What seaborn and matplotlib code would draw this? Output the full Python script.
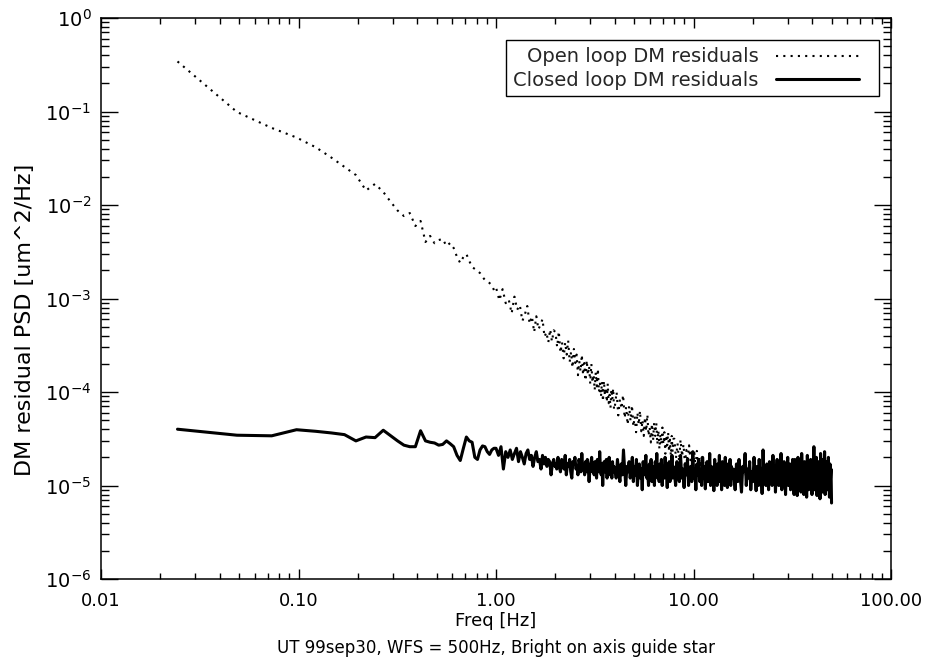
import matplotlib
matplotlib.use("Agg")
import numpy as np
import pandas as pd
import seaborn as sns
import matplotlib.pyplot as plt
from matplotlib.patches import Rectangle
from matplotlib.ticker import FixedLocator, FixedFormatter, LogLocator, NullFormatter

# ---------------- data ----------------
# lowest FFT bins (Hz)
bins_low = [0.0244, 0.0488, 0.0732, 0.0977, 0.1221, 0.1465, 0.1709, 0.1953, 0.2197, 0.2441,
            0.2686, 0.2930, 0.3174, 0.3418, 0.3662, 0.3906, 0.4150, 0.4395, 0.4639, 0.4883,
            0.5127, 0.5371, 0.5615, 0.5859, 0.6104, 0.6348, 0.6592, 0.6836, 0.7080, 0.7324,
            0.7568, 0.7813, 0.8057, 0.8301, 0.8545, 0.8789, 0.9033, 0.9277, 0.9521, 0.9766]

# open loop PSD [um^2/Hz] at the lowest bins
ol_low = [0.343, 0.0988, 0.0667, 0.0527, 0.0415, 0.0322, 0.0255, 0.0209, 0.0143, 0.0168,
          0.0138, 0.0108, 0.00873, 0.00762, 0.0082, 0.00596, 0.00675, 0.00402, 0.00467, 0.0039,
          4.22e-3, 4.33e-3, 3.64e-3, 3.92e-3, 3.47e-3, 2.78e-3, 2.40e-3, 2.78e-3, 2.99e-3, 2.52e-3,
          2.17e-3, 2.07e-3, 1.97e-3, 1.87e-3, 1.70e-3, 1.58e-3, 1.54e-3, 1.46e-3, 1.39e-3, 1.23e-3]

# open loop above 1 Hz: frequency [Hz] and log10(PSD)
ol_freq_hi = [1.00, 1.04, 1.08, 1.12, 1.16, 1.20, 1.24, 1.28, 1.32, 1.36, 1.40, 1.44, 1.48,
              1.52, 1.56, 1.60, 1.64, 1.68, 1.72, 1.76, 1.80, 1.84, 1.88, 1.92, 1.96,
              2.00, 2.04, 2.08, 2.12, 2.16, 2.20, 2.24, 2.28, 2.32, 2.36, 2.40, 2.44, 2.48, 2.52,
              2.56, 2.60, 2.64, 2.68, 2.72, 2.76, 2.80, 2.84, 2.88, 2.92, 2.96, 3.00, 3.04, 3.08,
              3.12, 3.16, 3.20, 3.24, 3.28, 3.32, 3.36, 3.40, 3.44, 3.48, 3.52, 3.56, 3.60, 3.64,
              3.68, 3.72, 3.76, 3.80, 3.84, 3.88, 3.92, 3.96,
              4.00, 4.08, 4.16, 4.24, 4.32, 4.40, 4.48, 4.56, 4.64, 4.72, 4.80, 4.88, 4.96, 5.04,
              5.12, 5.20, 5.28, 5.36, 5.44, 5.52, 5.60, 5.68, 5.76, 5.84, 5.92, 6.00, 6.08, 6.16,
              6.24, 6.32, 6.40, 6.48, 6.56, 6.64, 6.72, 6.80, 6.88, 6.96, 7.04, 7.12, 7.20, 7.28,
              7.36, 7.44, 7.52, 7.60, 7.68, 7.76, 7.84, 7.92,
              8.00, 8.15, 8.30, 8.45, 8.60, 8.75, 8.90, 9.05, 9.20, 9.35, 9.50, 9.65, 9.80, 9.95,
              10.10, 10.25, 10.40, 10.55, 10.70, 10.85, 11.00,
              12.0, 13.5, 15.0, 17.0, 19.0, 21.5, 24.0, 27.0, 30.0, 34.0, 38.0, 43.0, 50.0]
ol_log_hi = [-2.88, -3.02, -2.90, -3.05, -3.01, -3.16, -2.98, -3.12, -3.07, -3.24, -3.17, -3.08,
             -3.27, -3.19, -3.36, -3.19, -3.33, -3.28, -3.22, -3.41, -3.36, -3.47, -3.33, -3.46,
             -3.34,
             -3.36, -3.52, -3.35, -3.58, -3.47, -3.64, -3.47, -3.60, -3.45, -3.68, -3.57, -3.74,
             -3.54, -3.69, -3.60, -3.82, -3.67, -3.78, -3.60, -3.82, -3.69, -3.88, -3.66, -3.82,
             -3.72, -3.91, -3.70, -3.90, -3.81, -3.98, -3.79, -3.94, -3.75, -4.00, -3.91, -4.05,
             -3.89, -4.10, -3.88, -4.04, -3.95, -4.11, -3.91, -4.12, -4.03, -4.17, -3.97, -4.08,
             -3.96, -4.19,
             -4.15, -4.00, -4.25, -4.08, -4.18, -4.03, -4.28, -4.16, -4.35, -4.15, -4.31, -4.14,
             -4.37, -4.26, -4.43, -4.22, -4.35, -4.20, -4.42, -4.30, -4.47, -4.27, -4.42, -4.24,
             -4.47, -4.38, -4.54, -4.34, -4.52, -4.33, -4.47, -4.33, -4.56, -4.41, -4.61, -4.45,
             -4.56, -4.38, -4.56, -4.43, -4.66, -4.46, -4.57, -4.43, -4.64, -4.51, -4.68, -4.47,
             -4.64, -4.50,
             -4.50, -4.71, -4.55, -4.74, -4.51, -4.69, -4.56, -4.77, -4.62, -4.75, -4.57, -4.73,
             -4.62, -4.81, -4.65, -4.80, -4.63, -4.83, -4.70, -4.81, -4.70,
             -4.80, -4.95, -4.82, -4.97, -4.85, -5.00, -4.86, -5.02, -4.88, -5.03, -4.87, -5.05,
             -4.92]

# closed loop PSD, in units of 1e-5 um^2/Hz
cl_low = [4.0, 3.45, 3.4, 3.95, 3.8, 3.65, 3.5, 3.0, 3.3, 3.25,
          3.9, 3.4, 3.0, 2.7, 2.6, 2.6, 3.85, 3.0, 2.9, 2.85,
          2.7, 2.75, 3.0, 2.8, 2.6, 2.1, 1.85, 2.5, 3.3, 3.0,
          2.9, 2.0, 1.9, 2.4, 2.65, 2.6, 2.3, 2.15, 2.4, 2.5]
cl_freq_hi = [
    1.00, 1.03, 1.06, 1.09, 1.12, 1.15, 1.18, 1.21, 1.24, 1.27, 1.30, 1.33, 1.36, 1.39,
    1.42, 1.45, 1.48, 1.51, 1.54, 1.57, 1.60, 1.63, 1.66, 1.69, 1.72, 1.75, 1.78, 1.81,
    1.84, 1.87, 1.90, 1.93, 1.96, 1.99,
    2.00, 2.03, 2.06, 2.09, 2.12, 2.15, 2.18, 2.21, 2.24, 2.27, 2.30, 2.33, 2.36, 2.39,
    2.42, 2.45, 2.48, 2.51, 2.54, 2.57, 2.60, 2.63, 2.66, 2.69, 2.72, 2.75, 2.78, 2.81,
    2.84, 2.87, 2.90, 2.93, 2.96, 2.99, 3.02, 3.05, 3.08, 3.11, 3.14, 3.17, 3.20, 3.23,
    3.26, 3.29, 3.32, 3.35, 3.38, 3.41, 3.44, 3.47, 3.50, 3.53, 3.56, 3.59, 3.62, 3.65,
    3.68, 3.71, 3.74, 3.77, 3.80, 3.83, 3.86, 3.89, 3.92, 3.95, 3.98,
    4.00, 4.06, 4.12, 4.18, 4.24, 4.30, 4.36, 4.42, 4.48, 4.54, 4.60, 4.66, 4.72, 4.78,
    4.84, 4.90, 4.96, 5.02, 5.08, 5.14, 5.20, 5.26, 5.32, 5.38, 5.44, 5.50, 5.56, 5.62,
    5.68, 5.74, 5.80, 5.86, 5.92, 5.98, 6.04, 6.10, 6.16, 6.22, 6.28, 6.34, 6.40, 6.46,
    6.52, 6.58, 6.64, 6.70, 6.76, 6.82, 6.88, 6.94, 7.00, 7.06, 7.12, 7.18, 7.24, 7.30,
    7.36, 7.42, 7.48, 7.54, 7.60, 7.66, 7.72, 7.78, 7.84, 7.90, 7.96,
    8.00, 8.12, 8.24, 8.36, 8.48, 8.60, 8.72, 8.84, 8.96, 9.08, 9.20, 9.32, 9.44, 9.56,
    9.68, 9.80, 9.92, 10.04, 10.16, 10.28, 10.40, 10.52, 10.64, 10.76, 10.88, 11.00, 11.12,
    11.24, 11.36, 11.48, 11.60, 11.72, 11.84, 11.96, 12.08, 12.20, 12.32, 12.44, 12.56,
    12.68, 12.80, 12.92, 13.04, 13.16, 13.28, 13.40, 13.52, 13.64, 13.76, 13.88, 14.00,
    14.12, 14.24, 14.36, 14.48, 14.60, 14.72, 14.84, 14.96, 15.08, 15.20, 15.32, 15.44,
    15.56, 15.68, 15.80, 15.92,
    16.00, 16.25, 16.50, 16.75, 17.00, 17.25, 17.50, 17.75, 18.00, 18.25, 18.50, 18.75,
    19.00, 19.25, 19.50, 19.75, 20.00, 20.25, 20.50, 20.75, 21.00, 21.25, 21.50, 21.75,
    22.00, 22.25, 22.50, 22.75, 23.00, 23.25, 23.50, 23.75, 24.00, 24.25, 24.50, 24.75,
    25.00, 25.25, 25.50, 25.75, 26.00, 26.25, 26.50, 26.75, 27.00, 27.25, 27.50, 27.75,
    28.00, 28.25, 28.50, 28.75, 29.00, 29.25, 29.50, 29.75, 30.00, 30.25, 30.50, 30.75,
    31.00, 31.25, 31.50, 31.75,
    32.0, 32.3, 32.6, 32.9, 33.2, 33.5, 33.8, 34.1, 34.4, 34.7, 35.0, 35.3, 35.6, 35.9,
    36.2, 36.5, 36.8, 37.1, 37.4, 37.7, 38.0, 38.3, 38.6, 38.9, 39.2, 39.5, 39.8, 40.1,
    40.4, 40.7, 41.0, 41.3, 41.6, 41.9, 42.2, 42.5, 42.8, 43.1, 43.4, 43.7, 44.0, 44.3,
    44.6, 44.9, 45.2, 45.5, 45.8, 46.1, 46.4, 46.7, 47.0, 47.3, 47.6, 47.9, 48.2, 48.5,
    48.8, 49.1, 49.4, 49.7, 50.0]
cl_hi = [
    2.5, 2.1, 2.6, 1.5, 2.3, 2.0, 2.4, 1.9, 2.2, 2.5, 1.8, 2.3, 2.0, 1.7, 2.2, 2.4, 1.9,
    2.1, 1.6, 2.0, 2.3, 1.8, 1.9, 1.5, 2.1, 1.7, 2.0, 1.6, 1.9, 1.8, 1.3, 1.7, 1.9, 1.6,
    1.7, 1.5, 2.0, 1.6, 1.4, 1.9, 1.8, 1.5, 2.1, 1.3, 1.7, 1.6, 1.9, 1.4, 1.2, 1.8, 1.7,
    2.0, 1.5, 1.6, 1.3, 1.9, 1.7, 1.4, 2.2, 1.5, 1.6, 1.3, 1.8, 1.4, 1.9, 1.6, 1.1, 1.5,
    1.7, 2.0, 1.4, 1.6, 1.3, 1.8, 1.5, 1.2, 1.9, 1.6, 1.4, 2.3, 1.5, 1.3, 1.7, 1.0, 1.6,
    1.8, 1.4, 1.5, 1.9, 1.2, 1.6, 1.4, 2.0, 1.3, 1.5, 1.7, 1.2, 1.8, 1.4, 1.6, 1.5,
    1.5, 1.2, 1.9, 1.4, 1.1, 1.7, 1.3, 2.4, 1.5, 1.0, 1.6, 1.4, 1.8, 1.2, 1.5, 2.0, 1.1,
    1.6, 1.3, 1.9, 1.0, 1.4, 1.7, 1.2, 1.5, 0.9, 1.8, 1.3, 1.6, 2.1, 1.2, 1.4, 1.0, 1.7,
    1.5, 1.9, 1.1, 1.3, 1.6, 1.0, 1.8, 1.4, 2.2, 1.2, 1.5, 1.1, 1.7, 1.3, 1.9, 1.0, 1.4,
    1.6, 1.2, 2.0, 1.3, 1.5, 0.95, 1.7, 1.4, 1.8, 1.1, 1.5, 1.3, 2.1, 1.2, 1.6, 1.4,
    1.4, 1.0, 1.8, 1.3, 1.1, 2.1, 1.2, 1.5, 0.95, 1.7, 1.3, 1.9, 1.0, 1.4, 1.6, 1.1, 2.3,
    1.2, 1.5, 0.9, 1.7, 1.3, 1.9, 1.1, 1.4, 1.0, 2.0, 1.2, 1.6, 0.92, 1.5, 1.8, 1.1, 1.3,
    2.2, 1.0, 1.6, 1.2, 1.4, 0.88, 1.9, 1.3, 1.5, 1.0, 1.7, 1.2, 2.1, 1.1, 1.4, 0.9, 1.8,
    1.3, 1.6, 1.0, 2.0, 1.2, 1.5, 0.95, 1.7, 1.1, 1.4, 1.9, 1.0, 1.6, 1.2, 1.3, 1.5,
    1.3, 0.9, 1.7, 1.1, 1.9, 1.2, 0.85, 1.6, 1.4, 2.2, 1.0, 1.5, 1.2, 1.8, 0.9, 1.4, 1.1,
    2.0, 1.3, 0.88, 1.6, 1.0, 1.9, 1.2, 1.5, 0.82, 2.4, 1.1, 1.4, 1.0, 1.7, 1.3, 0.9, 1.8,
    1.2, 1.5, 1.0, 2.1, 1.1, 1.6, 0.85, 1.4, 1.9, 1.2, 1.0, 1.7, 1.3, 2.2, 0.9, 1.5, 1.1,
    1.8, 1.2, 0.8, 1.6, 1.4, 2.0, 1.0, 1.3, 1.7, 0.9, 1.5, 1.2, 1.9,
    1.2, 0.8, 1.9, 1.1, 1.5, 0.78, 2.0, 1.3, 1.0, 1.7, 0.85, 2.2, 1.2, 1.4, 0.8, 1.8, 1.1,
    1.6, 0.75, 2.1, 1.3, 0.9, 1.5, 1.0, 1.9, 1.2, 0.8, 1.7, 1.1, 2.6, 0.9, 1.4, 1.2, 2.0,
    0.78, 1.6, 1.0, 1.8, 1.3, 0.72, 2.2, 1.1, 1.5, 0.85, 1.9, 1.2, 1.0, 2.3, 0.8, 1.6,
    1.3, 1.8, 0.9, 1.4, 2.0, 1.1, 0.75, 1.7, 1.2, 1.5, 0.65]

x_ticks = [0.01, 0.1, 1.0, 10.0, 100.0]
x_tick_labels = ["0.01", "0.10", "1.00", "10.00", "100.00"]
y_ticks = [1e-6, 1e-5, 1e-4, 1e-3, 1e-2, 1e-1, 1e0]
y_tick_labels = [r"$10^{-6}$", r"$10^{-5}$", r"$10^{-4}$", r"$10^{-3}$",
                 r"$10^{-2}$", r"$10^{-1}$", r"$10^{0}$"]

label_open = "Open loop DM residuals"
label_closed = "Closed loop DM residuals"

# ---------------- frames ----------------
df_open = pd.DataFrame({"freq": bins_low + ol_freq_hi,
                        "psd": ol_low + list(10.0 ** np.array(ol_log_hi))})
df_closed = pd.DataFrame({"freq": bins_low + cl_freq_hi,
                          "psd": np.array(cl_low + cl_hi) * 1e-5})

# ---------------- style ----------------
sns.set_theme(style="ticks")
plt.rcParams["font.family"] = ["DejaVu Sans"]
plt.rcParams["mathtext.fontset"] = "dejavusans"
plt.rcParams["axes.linewidth"] = 1.1

W, H = 927, 664
fig = plt.figure(figsize=(W / 100, H / 100), dpi=100)
fig.patch.set_facecolor("white")
ax = fig.add_axes([101 / W, 85 / H, 790 / W, 561 / H])
ax.set_facecolor("white")

sns.lineplot(data=df_open, x="freq", y="psd", ax=ax, color="black", lw=1.5,
             linestyle=(0, (1, 2.5)), estimator=None, sort=False, label=label_open)
sns.lineplot(data=df_closed, x="freq", y="psd", ax=ax, color="black", lw=2.2,
             estimator=None, sort=False, label=label_closed)

ax.set_xscale("log")
ax.set_yscale("log")
ax.set_xlim(0.01, 100)
ax.set_ylim(1e-6, 1)

ax.xaxis.set_major_locator(FixedLocator(x_ticks))
ax.xaxis.set_major_formatter(FixedFormatter(x_tick_labels))
ax.xaxis.set_minor_locator(LogLocator(base=10, subs=np.arange(2, 10)))
ax.xaxis.set_minor_formatter(NullFormatter())
ax.yaxis.set_major_locator(FixedLocator(y_ticks))
ax.yaxis.set_major_formatter(FixedFormatter(y_tick_labels))
ax.yaxis.set_minor_locator(LogLocator(base=10, subs=np.arange(2, 10)))
ax.yaxis.set_minor_formatter(NullFormatter())

ax.tick_params(which="both", direction="in", top=True, right=True, colors="black", width=1.0)
ax.tick_params(axis="x", which="major", length=7, pad=9, labelsize=13)
ax.tick_params(axis="x", which="minor", length=4)
ax.tick_params(axis="y", which="major", length=12, pad=7, labelsize=14)
ax.tick_params(axis="y", which="minor", length=6)
for sp in ax.spines.values():
    sp.set_color("black")

ax.set_xlabel("Freq [Hz]", fontsize=13, color="black")
ax.xaxis.set_label_coords(0.5, -0.058)
ax.set_ylabel("DM residual PSD [um^2/Hz]", fontsize=16, color="black")
ax.yaxis.set_label_coords(-0.083, 0.462)

fig.text(496 / W, 1 - 648 / H, "UT 99sep30, WFS = 500Hz, Bright on axis guide star",
         ha="center", va="center", fontsize=12, color="black")

# legend entries (frame drawn separately to match the reference box)
leg = ax.legend(loc="upper left", bbox_to_anchor=(513 / W, 1 - 47.5 / H),
                bbox_transform=fig.transFigure, borderaxespad=0, borderpad=0,
                markerfirst=False, frameon=False, fontsize=14, handlelength=4.27,
                handletextpad=0.93, labelspacing=0.23)
fig.add_artist(Rectangle((506 / W, 1 - 96 / H), 373 / W, 56 / H, transform=fig.transFigure,
                         fill=False, edgecolor="black", linewidth=1.0))

fig.savefig("out.png", dpi=100, facecolor="white")
